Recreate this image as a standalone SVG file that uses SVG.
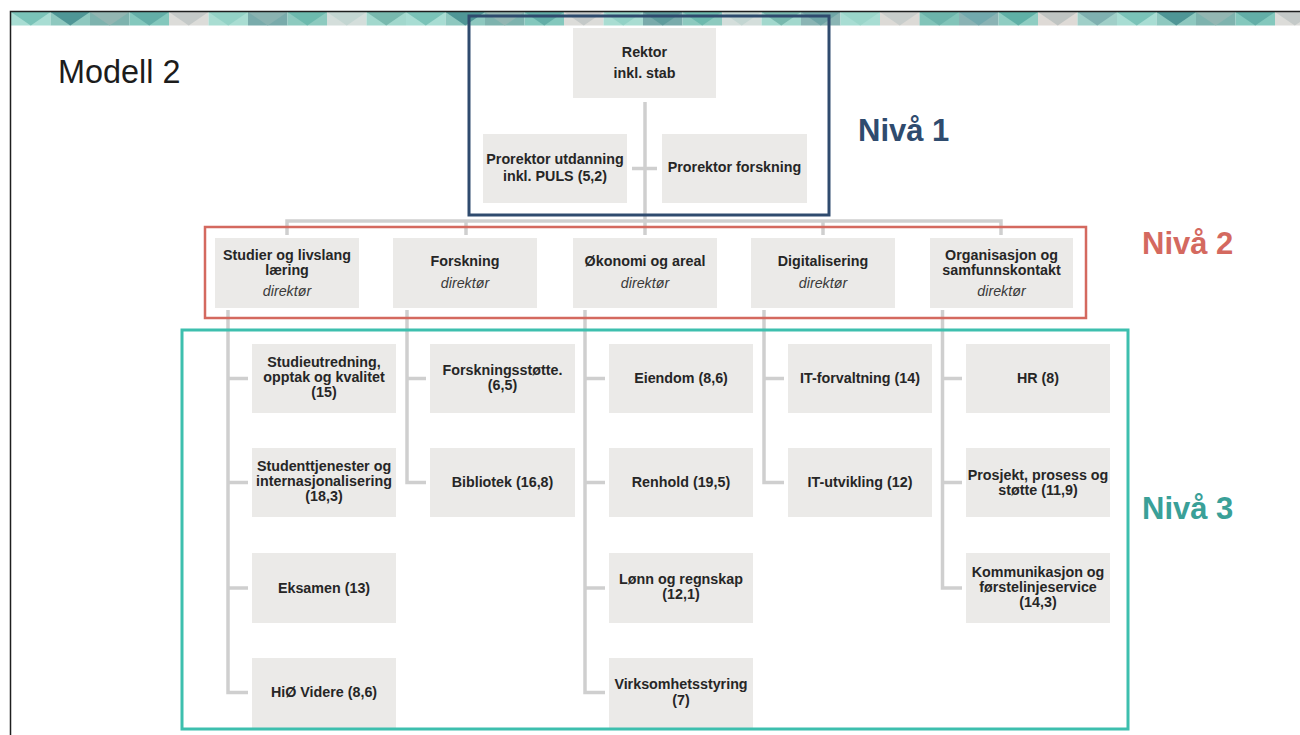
<svg xmlns="http://www.w3.org/2000/svg" width="1300" height="735" viewBox="0 0 1300 735">
<style>
.box{fill:#ebeae8}
.t{font-family:"Liberation Sans",Arial,sans-serif;font-size:14.3px;font-weight:bold;fill:#262626;text-anchor:middle}
.d{font-family:"Liberation Sans",Arial,sans-serif;font-size:14.3px;font-style:italic;fill:#3a3a3a;text-anchor:middle}
.con{fill:none;stroke:#cfcfcf;stroke-width:3.5}
.lvl{font-family:"Liberation Sans",Arial,sans-serif;font-size:31px;font-weight:bold}
.frame{fill:none}
</style>
<rect x="0" y="0" width="1300" height="735" fill="#ffffff"/>
<g id="band">
<rect x="11" y="12" width="39.5" height="13.5" fill="#a8ddd3"/><path d="M11,12h39.5l-19.75,13.5z" fill="#7ac3b8"/>
<rect x="50.5" y="12" width="39.5" height="13.5" fill="#8ec8bf"/><path d="M50.5,12h39.5l-19.75,13.5z" fill="#4f9696"/>
<rect x="90" y="12" width="39.5" height="13.5" fill="#7eb3ae"/><path d="M90,12h39.5l-19.75,13.5z" fill="#93b6b2"/>
<rect x="129.5" y="12" width="39.5" height="13.5" fill="#84c8bd"/><path d="M129.5,12h39.5l-19.75,13.5z" fill="#63aea7"/>
<rect x="169" y="12" width="39.5" height="13.5" fill="#dcdcd9"/><path d="M169,12h39.5l-19.75,13.5z" fill="#c4c9c8"/>
<rect x="208.5" y="12" width="39.5" height="13.5" fill="#a9ddd2"/><path d="M208.5,12h39.5l-19.75,13.5z" fill="#93d2c6"/>
<rect x="248" y="12" width="39.5" height="13.5" fill="#79abab"/><path d="M248,12h39.5l-19.75,13.5z" fill="#8ab3b1"/>
<rect x="287.5" y="12" width="39.5" height="13.5" fill="#8dcabf"/><path d="M287.5,12h39.5l-19.75,13.5z" fill="#6dbaae"/>
<rect x="327" y="12" width="39.5" height="13.5" fill="#d4dedb"/><path d="M327,12h39.5l-19.75,13.5z" fill="#c3d6d2"/>
<rect x="366.5" y="12" width="39.5" height="13.5" fill="#a2d8cd"/><path d="M366.5,12h39.5l-19.75,13.5z" fill="#78b9ae"/>
<rect x="406" y="12" width="39.5" height="13.5" fill="#a8ddd3"/><path d="M406,12h39.5l-19.75,13.5z" fill="#7ac3b8"/>
<rect x="445.5" y="12" width="39.5" height="13.5" fill="#8ec8bf"/><path d="M445.5,12h39.5l-19.75,13.5z" fill="#4f9696"/>
<rect x="485" y="12" width="39.5" height="13.5" fill="#7eb3ae"/><path d="M485,12h39.5l-19.75,13.5z" fill="#93b6b2"/>
<rect x="524.5" y="12" width="39.5" height="13.5" fill="#84c8bd"/><path d="M524.5,12h39.5l-19.75,13.5z" fill="#63aea7"/>
<rect x="564" y="12" width="39.5" height="13.5" fill="#dcdcd9"/><path d="M564,12h39.5l-19.75,13.5z" fill="#c4c9c8"/>
<rect x="603.5" y="12" width="39.5" height="13.5" fill="#a9ddd2"/><path d="M603.5,12h39.5l-19.75,13.5z" fill="#93d2c6"/>
<rect x="643" y="12" width="39.5" height="13.5" fill="#79abab"/><path d="M643,12h39.5l-19.75,13.5z" fill="#5f9c9c"/>
<rect x="682.5" y="12" width="39.5" height="13.5" fill="#8dcabf"/><path d="M682.5,12h39.5l-19.75,13.5z" fill="#6dbaae"/>
<rect x="722" y="12" width="39.5" height="13.5" fill="#d4dedb"/><path d="M722,12h39.5l-19.75,13.5z" fill="#c3d6d2"/>
<rect x="761.5" y="12" width="39.5" height="13.5" fill="#a2d8cd"/><path d="M761.5,12h39.5l-19.75,13.5z" fill="#78b9ae"/>
<rect x="801" y="12" width="39.5" height="13.5" fill="#8ab5b4"/><path d="M801,12h39.5l-19.75,13.5z" fill="#6fa5a6"/>
<rect x="840.5" y="12" width="39.5" height="13.5" fill="#a8ddd3"/><path d="M840.5,12h39.5l-19.75,13.5z" fill="#9ad6ca"/>
<rect x="880" y="12" width="39.5" height="13.5" fill="#dcdad6"/><path d="M880,12h39.5l-19.75,13.5z" fill="#c8cdcb"/>
<rect x="919.5" y="12" width="39.5" height="13.5" fill="#82c4b9"/><path d="M919.5,12h39.5l-19.75,13.5z" fill="#6cb4ab"/>
<rect x="959" y="12" width="39.5" height="13.5" fill="#8ab3b4"/><path d="M959,12h39.5l-19.75,13.5z" fill="#72a9ad"/>
<rect x="998.5" y="12" width="39.5" height="13.5" fill="#8fcdc2"/><path d="M998.5,12h39.5l-19.75,13.5z" fill="#5fb0a6"/>
<rect x="1038" y="12" width="39.5" height="13.5" fill="#dedad6"/><path d="M1038,12h39.5l-19.75,13.5z" fill="#bfc4c2"/>
<rect x="1077.5" y="12" width="39.5" height="13.5" fill="#a0cfc8"/><path d="M1077.5,12h39.5l-19.75,13.5z" fill="#7fb0b0"/>
<rect x="1117" y="12" width="39.5" height="13.5" fill="#a8ddd3"/><path d="M1117,12h39.5l-19.75,13.5z" fill="#7ac3b8"/>
<rect x="1156.5" y="12" width="39.5" height="13.5" fill="#8ec8bf"/><path d="M1156.5,12h39.5l-19.75,13.5z" fill="#4f9696"/>
<rect x="1196" y="12" width="39.5" height="13.5" fill="#7eb3ae"/><path d="M1196,12h39.5l-19.75,13.5z" fill="#93b6b2"/>
<rect x="1235.5" y="12" width="39.5" height="13.5" fill="#84c8bd"/><path d="M1235.5,12h39.5l-19.75,13.5z" fill="#63aea7"/>
<rect x="1275" y="12" width="39.5" height="13.5" fill="#dcdcd9"/><path d="M1275,12h39.5l-19.75,13.5z" fill="#c4c9c8"/>
</g>
<g id="slide-border" fill="none" stroke="#1e1e1e" stroke-width="1.5">
<path d="M10.5,735V11.5H1300"/>
</g>
<text id="title" x="58" y="83" font-family="'Liberation Sans',Arial,sans-serif" font-size="32.4" fill="#1c1c1c">Modell 2</text>
<g id="connectors">
<path class="con" d="M645,102V235"/>
<path class="con" d="M632,168.5H657"/>
<path class="con" d="M287,235V221H1001V235"/>
<path class="con" d="M466,221V235"/>
<path class="con" d="M823,221V235"/>
<path class="con" d="M228,310V692.5H248M228,378.5H248M228,482.5H248M228,588H248"/>
<path class="con" d="M407,310V482.5H426M407,378.5H426"/>
<path class="con" d="M585,310V692.5H605M585,378.5H605M585,482.5H605M585,588H605"/>
<path class="con" d="M764,310V482.5H784M764,378.5H784"/>
<path class="con" d="M942.5,310V588H962M942.5,378.5H962M942.5,482.5H962"/>
</g>
<g id="rektor"><rect class="box" x="573" y="28" width="143" height="70"/><text class="t" x="644.5" y="57">Rektor</text><text class="t" x="644.5" y="78">inkl. stab</text></g>
<g id="prorektor-utdanning"><rect class="box" x="483" y="134" width="144" height="69"/><text class="t" x="555" y="164">Prorektor utdanning</text><text class="t" x="555" y="181">inkl. PULS (5,2)</text></g>
<g id="prorektor-forskning"><rect class="box" x="662" y="134" width="145" height="69"/><text class="t" x="734.5" y="172">Prorektor forskning</text></g>
<g id="studier"><rect class="box" x="215" y="238" width="144" height="70"/><text class="t" x="287" y="260">Studier og livslang</text><text class="t" x="287" y="275">læring</text><text class="d" x="287" y="296">direktør</text></g>
<g id="forskning"><rect class="box" x="393" y="238" width="144" height="70"/><text class="t" x="465" y="266">Forskning</text><text class="d" x="465" y="288">direktør</text></g>
<g id="okonomi"><rect class="box" x="573" y="238" width="144" height="70"/><text class="t" x="645" y="266">Økonomi og areal</text><text class="d" x="645" y="288">direktør</text></g>
<g id="digitalisering"><rect class="box" x="751" y="238" width="144" height="70"/><text class="t" x="823" y="266">Digitalisering</text><text class="d" x="823" y="288">direktør</text></g>
<g id="organisasjon"><rect class="box" x="930" y="238" width="143" height="70"/><text class="t" x="1001.5" y="260">Organisasjon og</text><text class="t" x="1001.5" y="275">samfunnskontakt</text><text class="d" x="1001.5" y="296">direktør</text></g>
<g id="studieutredning"><rect class="box" x="252" y="344" width="144" height="69"/><text class="t" x="324" y="367">Studieutredning,</text><text class="t" x="324" y="382">opptak og kvalitet</text><text class="t" x="324" y="397">(15)</text></g>
<g id="studenttjenester"><rect class="box" x="252" y="448" width="144" height="69"/><text class="t" x="324" y="471">Studenttjenester og</text><text class="t" x="324" y="486">internasjonalisering</text><text class="t" x="324" y="501">(18,3)</text></g>
<g id="eksamen"><rect class="box" x="252" y="553" width="144" height="70"/><text class="t" x="324" y="593">Eksamen (13)</text></g>
<g id="hio-videre"><rect class="box" x="252" y="658" width="144" height="70"/><text class="t" x="324" y="697">HiØ Videre (8,6)</text></g>
<g id="forskningsstotte"><rect class="box" x="430" y="344" width="145" height="69"/><text class="t" x="502.5" y="375">Forskningsstøtte.</text><text class="t" x="502.5" y="390">(6,5)</text></g>
<g id="bibliotek"><rect class="box" x="430" y="448" width="145" height="69"/><text class="t" x="502.5" y="487">Bibliotek (16,8)</text></g>
<g id="eiendom"><rect class="box" x="609" y="344" width="144" height="69"/><text class="t" x="681" y="383">Eiendom (8,6)</text></g>
<g id="renhold"><rect class="box" x="609" y="448" width="144" height="69"/><text class="t" x="681" y="487">Renhold (19,5)</text></g>
<g id="lonn"><rect class="box" x="609" y="553" width="144" height="70"/><text class="t" x="681" y="584">Lønn og regnskap</text><text class="t" x="681" y="599">(12,1)</text></g>
<g id="virksomhetsstyring"><rect class="box" x="609" y="658" width="144" height="70"/><text class="t" x="681" y="689">Virksomhetsstyring</text><text class="t" x="681" y="705">(7)</text></g>
<g id="it-forvaltning"><rect class="box" x="788" y="344" width="144" height="69"/><text class="t" x="860" y="383">IT-forvaltning (14)</text></g>
<g id="it-utvikling"><rect class="box" x="788" y="448" width="144" height="69"/><text class="t" x="860" y="487">IT-utvikling (12)</text></g>
<g id="hr"><rect class="box" x="966" y="344" width="144" height="69"/><text class="t" x="1038" y="383">HR (8)</text></g>
<g id="prosjekt"><rect class="box" x="966" y="448" width="144" height="69"/><text class="t" x="1038" y="480">Prosjekt, prosess og</text><text class="t" x="1038" y="495">støtte (11,9)</text></g>
<g id="kommunikasjon"><rect class="box" x="966" y="553" width="144" height="70"/><text class="t" x="1038" y="577">Kommunikasjon og</text><text class="t" x="1038" y="592">førstelinjeservice</text><text class="t" x="1038" y="607">(14,3)</text></g>
<g id="level-frames">
<rect class="frame" x="469" y="16" width="360" height="199" stroke="#2f4b6e" stroke-width="3"/>
<rect class="frame" x="205" y="227" width="881" height="91" stroke="#d4695f" stroke-width="2.5"/>
<rect class="frame" x="182" y="330" width="946" height="399" stroke="#3dbfae" stroke-width="3"/>
</g>
<g id="level-labels">
<text class="lvl" x="858" y="141" fill="#2f4b6e">Nivå 1</text>
<text class="lvl" x="1142" y="254" fill="#d4695f">Nivå 2</text>
<text class="lvl" x="1142" y="519" fill="#3aa098">Nivå 3</text>
</g>
</svg>
